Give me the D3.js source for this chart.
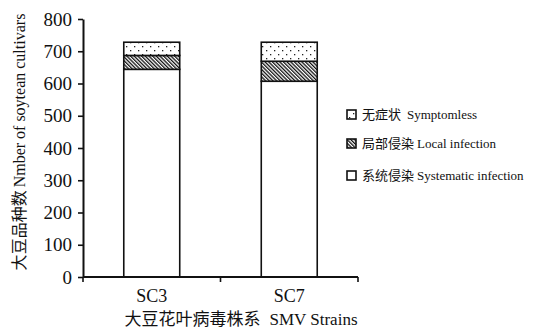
<!DOCTYPE html>
<html><head><meta charset="utf-8">
<script src="https://cdn.jsdelivr.net/npm/d3@7"></script>
<style>body{margin:0;background:#fff}svg{display:block}</style>
</head><body>
<script>
const categories = ["SC3", "SC7"];
const seriesCN = ["系统侵染", "局部侵染", "无症状"];
const seriesEN = ["Systematic infection", "Local infection", "Symptomless"];
const systematic = [644, 607];
const local = [43, 62];
const symptomless = [41, 59];
const yTicks = [0, 100, 200, 300, 400, 500, 600, 700, 800];

const W = 537, H = 330;
const svg = d3.select("body").append("svg").attr("width", W).attr("height", H);
const defs = svg.append("defs");
const hatch = defs.append("pattern").attr("id", "hatch").attr("patternUnits", "userSpaceOnUse")
  .attr("width", 2.6).attr("height", 2.6).attr("patternTransform", "rotate(-45)");
hatch.append("rect").attr("width", 2.6).attr("height", 2.6).attr("fill", "#fff");
hatch.append("line").attr("x1", 0.65).attr("y1", 0).attr("x2", 0.65).attr("y2", 2.6).attr("stroke", "#111").attr("stroke-width", 1.3);
const dots = defs.append("pattern").attr("id", "dots").attr("patternUnits", "userSpaceOnUse")
  .attr("width", 8).attr("height", 8);
dots.append("rect").attr("width", 8).attr("height", 8).attr("fill", "#fff");
dots.append("rect").attr("x", 2).attr("y", 2).attr("width", 1.3).attr("height", 1.3).attr("fill", "#222");
dots.append("rect").attr("x", 6).attr("y", 6).attr("width", 1.3).attr("height", 1.3).attr("fill", "#222");

const fills = ["#fff", "url(#hatch)", "url(#dots)"];
const x0 = 83, x1 = 358, yTop = 19, yBot = 277;
const x = d3.scaleBand().domain(categories).range([x0, x1]).paddingInner(0.593).paddingOuter(0.2965);
const y = d3.scaleLinear().domain([0, 800]).range([yBot, yTop]);

const serif = "Liberation Serif";
const cjk = "Noto Sans CJK SC";

function mixed(sel, cn, en, size, gap) {
  sel.append("tspan").attr("font-family", cjk).attr("font-size", size).text(cn);
  sel.append("tspan").attr("font-family", serif).attr("font-size", size).attr("dx", gap).text(en);
}

const data = categories.map((c, i) => ({cat: c, v: [systematic[i], local[i], symptomless[i]]}));
const stack = d3.stack().keys([0, 1, 2]).value((d, k) => d.v[k]);
const layers = stack(data);
layers.forEach((layer, k) => {
  svg.append("g").selectAll("rect").data(layer).join("rect")
    .attr("x", d => x(d.data.cat)).attr("width", x.bandwidth())
    .attr("y", d => y(d[1])).attr("height", d => y(d[0]) - y(d[1]))
    .attr("fill", fills[k]).attr("stroke", "#111").attr("stroke-width", 1.6);
});

// y axis
const ya = svg.append("g").attr("transform", `translate(${x0},0)`)
  .call(d3.axisLeft(y).tickValues(yTicks).tickSize(5).tickPadding(6).tickSizeOuter(0));
ya.select(".domain").attr("stroke", "#111").attr("stroke-width", 2);
ya.selectAll(".tick line").attr("stroke", "#111").attr("stroke-width", 1.6);
ya.selectAll("text").attr("font-family", serif).attr("font-size", 19).attr("fill", "#111");

// x axis
const xa = svg.append("g").attr("transform", `translate(0,${yBot})`);
xa.append("line").attr("x1", x0).attr("x2", x1).attr("stroke", "#111").attr("stroke-width", 2);
const mid = (x0 + x1) / 2;
[x0, mid, x1].forEach(t => xa.append("line").attr("x1", t).attr("x2", t).attr("y1", 0).attr("y2", 5).attr("stroke", "#111").attr("stroke-width", 1.6));
categories.forEach(c => {
  xa.append("text").attr("x", x(c) + x.bandwidth() / 2).attr("y", 25).attr("text-anchor", "middle")
    .attr("font-family", serif).attr("font-size", 18).attr("fill", "#111").text(c);
});

const xt = svg.append("text").attr("x", 241).attr("y", 325).attr("text-anchor", "middle").attr("fill", "#111");
mixed(xt, "大豆花叶病毒株系", "SMV Strains", 17, 9);

const yt = svg.append("text").attr("transform", "translate(25,142) rotate(-90)").attr("text-anchor", "middle").attr("fill", "#111");
mixed(yt, "大豆品种数", "Nmber of soytean cultivars", 16, 3);

// legend
const legendOrder = [2, 1, 0];
const ly = [115, 144, 176];
legendOrder.forEach((k, i) => {
  const g = svg.append("g").attr("transform", `translate(347,${ly[i]})`);
  g.append("rect").attr("x", 0).attr("y", -5).attr("width", 9).attr("height", 9)
    .attr("fill", fills[k]).attr("stroke", "#111").attr("stroke-width", 1.6);
  const t = g.append("text").attr("x", 15).attr("y", 4).attr("fill", "#111");
  mixed(t, seriesCN[k], seriesEN[k], 13, k === 2 ? 6 : 3);
});
</script>
</body></html>
